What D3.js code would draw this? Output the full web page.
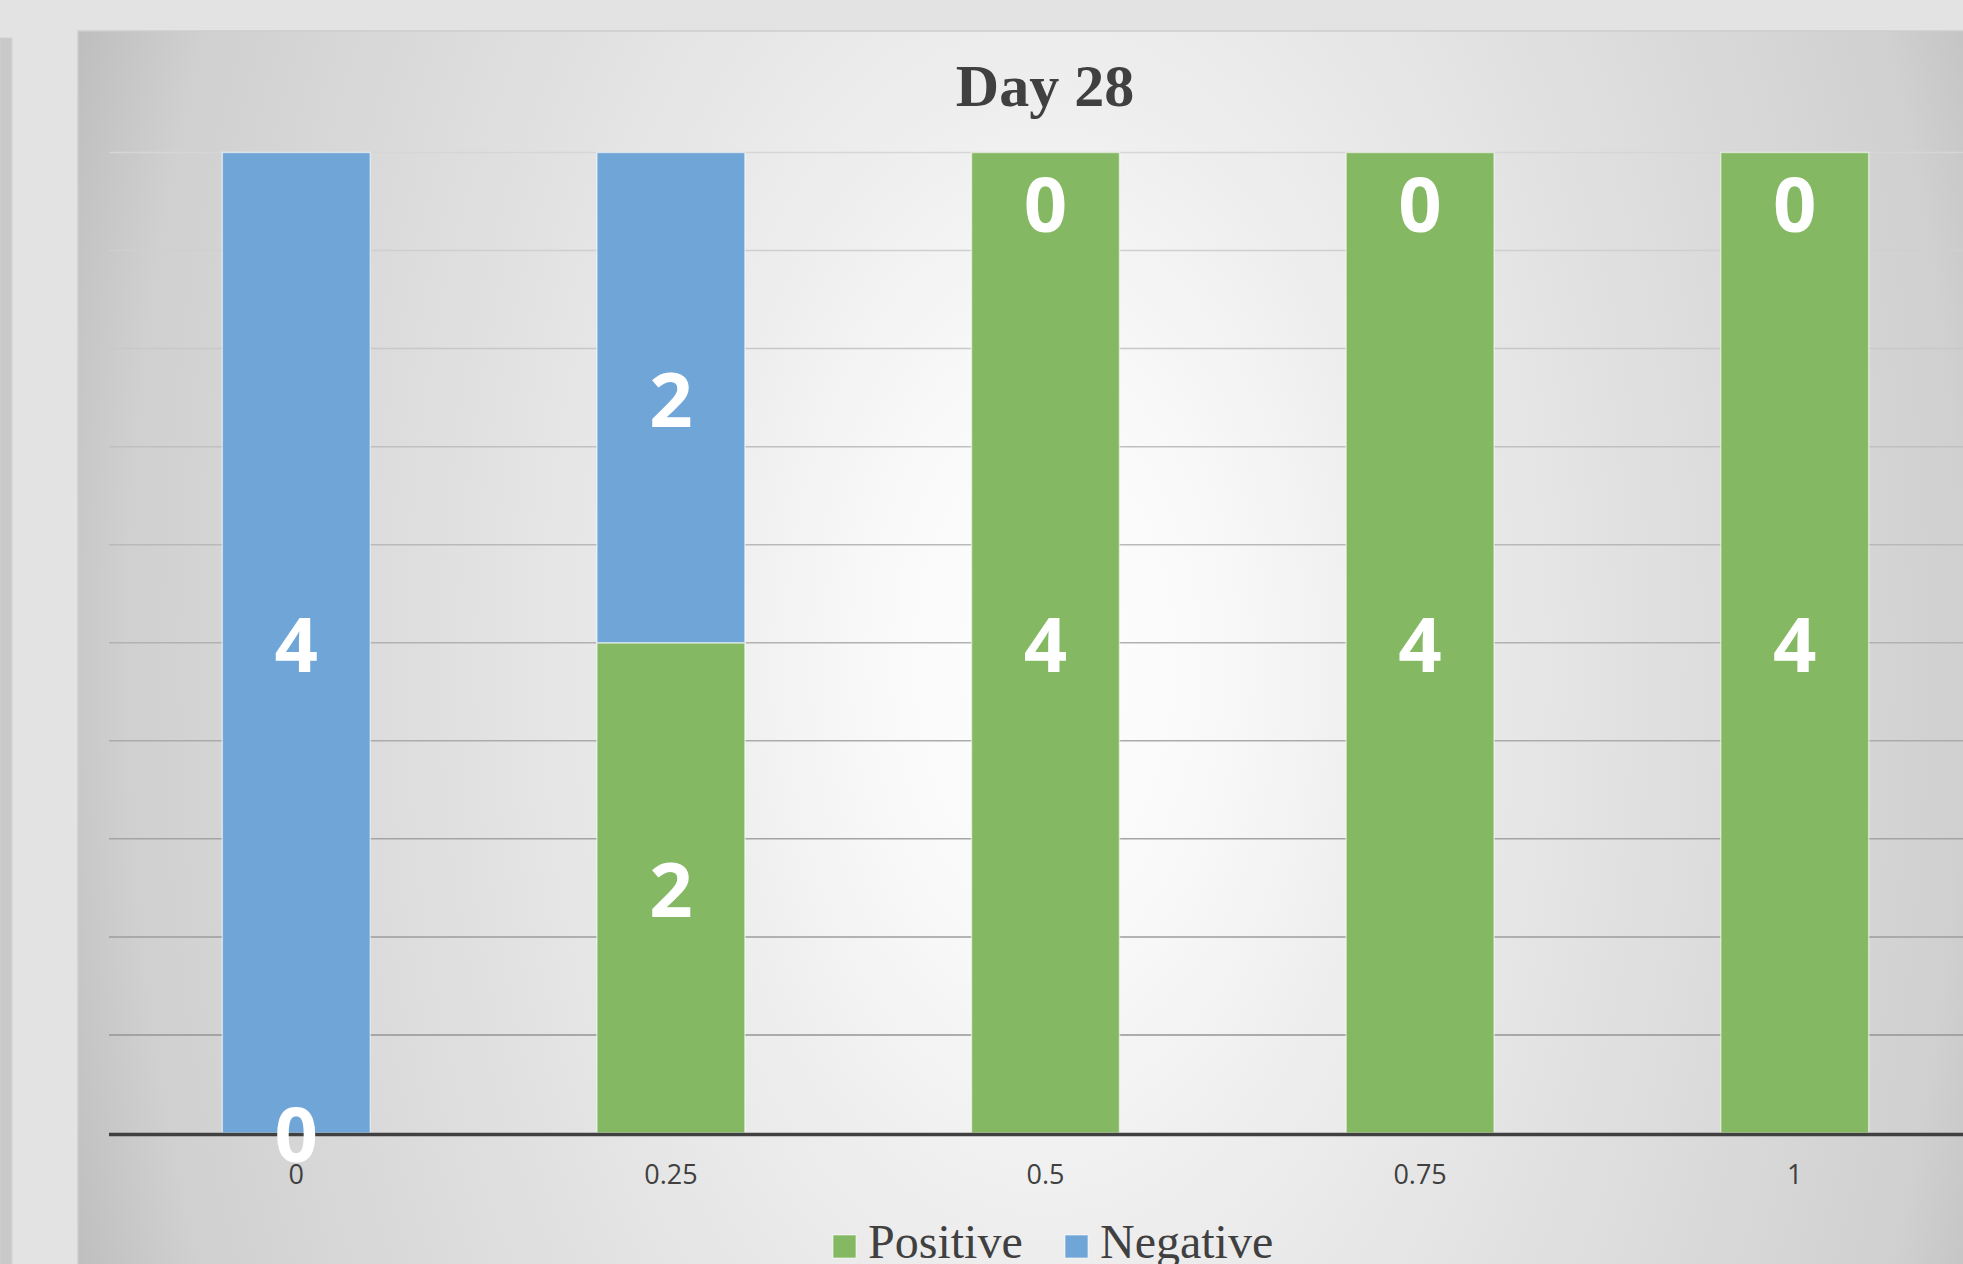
<!DOCTYPE html>
<html>
<head>
<meta charset="utf-8">
<script src="https://cdn.jsdelivr.net/npm/d3@7"></script>
<style>
  html, body { margin: 0; padding: 0; background: #e3e3e3; overflow: hidden; }
  svg { display: block; }
</style>
</head>
<body>
<div id="chart"></div>
<script>
// chart values
const categories = ['0', '0.25', '0.5', '0.75', '1'];
const positive = [0, 2, 4, 4, 4];
const negative = [4, 2, 0, 0, 0];
const seriesNames = ['Positive', 'Negative'];
const seriesColors = ['#84b862', '#6fa5d7'];
const title = 'Day 28';

const W = 1963, H = 1264;

const svg = d3.select('#chart')
    .append('svg')
    .attr('width', W)
    .attr('height', H);

const defs = svg.append('defs');

// chart area background, white in the middle, grey to the sides
const grad = defs.append('radialGradient')
    .attr('id', 'bg')
    .attr('gradientUnits', 'userSpaceOnUse')
    .attr('cx', 1045).attr('cy', 660).attr('r', 1100)
    .attr('gradientTransform', 'translate(1045,660) scale(1,1.7) translate(-1045,-660)');
[[0, 255], [0.17, 248], [0.306, 238], [0.51, 226], [0.835, 208], [0.94, 190], [1, 186]]
    .forEach(s => {
        grad.append('stop')
            .attr('offset', s[0])
            .attr('stop-color', d3.rgb(s[1], s[1], s[1]));
    });

// grey strip at left edge
svg.append('rect')
    .attr('x', 0).attr('y', 38)
    .attr('width', 12).attr('height', H)
    .style('fill', '#c9c9c9')
    .style('stroke', '#d2d2d2');

svg.append('rect')
    .attr('x', 78).attr('y', 31)
    .attr('width', 1940).attr('height', 1300)
    .style('fill', 'url(#bg)')
    .style('stroke', '#cdcdcd')
    .style('stroke-width', 1.5);

const plot = { left: 109, right: 1982, top: 152.5, bottom: 1133 };

const table = categories.map((c, i) => ({ cat: c, Positive: positive[i], Negative: negative[i] }));

const stack = d3.stack()
    .keys(seriesNames)
    .offset(d3.stackOffsetExpand);
const stacked = stack(table);

const xScale = d3.scaleBand()
    .domain(categories)
    .range([plot.left, plot.right])
    .paddingInner(0.605)
    .paddingOuter(0.3025);

const yScale = d3.scaleLinear()
    .domain([0, 1])
    .range([plot.bottom, plot.top]);

// gridlines, darker towards the bottom
const shade = d3.interpolateRgb('#d6d6d6', '#8e8e8e');
svg.append('g')
    .attr('class', 'grid')
    .selectAll('line')
    .data(yScale.ticks(10).slice(1))
    .enter()
    .append('line')
    .attr('x1', plot.left)
    .attr('x2', plot.right)
    .attr('y1', d => yScale(d))
    .attr('y2', d => yScale(d))
    .style('stroke', d => shade(1 - d))
    .style('stroke-width', 1.5);

// bars
svg.append('g')
    .selectAll('g')
    .data(stacked)
    .enter()
    .append('g')
    .style('fill', (d, i) => seriesColors[i])
    .selectAll('rect')
    .data(d => d)
    .enter()
    .append('rect')
    .attr('x', d => xScale(d.data.cat))
    .attr('y', d => yScale(d[1]))
    .attr('width', xScale.bandwidth())
    .attr('height', d => yScale(d[0]) - yScale(d[1]))
    .style('stroke', 'rgba(255,255,255,0.55)')
    .style('stroke-width', 1.5);

// x axis
const xAxis = svg.append('g')
    .attr('class', 'x-axis')
    .attr('transform', `translate(0,${plot.bottom})`)
    .call(d3.axisBottom(xScale).tickSize(0).tickPadding(0));
xAxis.select('.domain').remove();
xAxis.selectAll('text')
    .attr('y', 51)
    .attr('dy', null)
    .style('font-family', '"Open Sans", sans-serif')
    .style('font-size', '27px')
    .style('fill', '#404040');

svg.append('line')
    .attr('x1', plot.left).attr('x2', W)
    .attr('y1', plot.bottom + 1.5).attr('y2', plot.bottom + 1.5)
    .style('stroke', '#404040')
    .style('stroke-width', 3.5);

// data labels (kept inside the plot area at the top)
const labels = svg.append('g');
stacked.forEach(s => {
    labels.selectAll(null)
        .data(s)
        .enter()
        .append('text')
        .attr('x', d => xScale(d.data.cat) + xScale.bandwidth() / 2)
        .attr('y', d => Math.max((yScale(d[0]) + yScale(d[1])) / 2, plot.top + 50) + 29)
        .attr('text-anchor', 'middle')
        .style('font-family', '"Open Sans", sans-serif')
        .style('font-weight', 'bold')
        .style('font-size', '76px')
        .style('fill', '#ffffff')
        .text(d => d.data[s.key]);
});

// title
svg.append('text')
    .attr('x', 1045)
    .attr('y', 106)
    .attr('text-anchor', 'middle')
    .style('font-family', '"Liberation Serif", "Times New Roman", serif')
    .style('font-weight', 'bold')
    .style('font-size', '60px')
    .style('fill', '#404040')
    .text(title);

// legend
const legendX = [833, 1065];
const legend = svg.append('g');
seriesNames.forEach((name, i) => {
    legend.append('rect')
        .attr('x', legendX[i]).attr('y', 1235)
        .attr('width', 23).attr('height', 23)
        .style('fill', seriesColors[i])
        .style('stroke', 'rgba(255,255,255,0.6)');
    legend.append('text')
        .attr('x', legendX[i] + 35)
        .attr('y', 1258)
        .style('font-family', '"Liberation Serif", "Times New Roman", serif')
        .style('font-size', '48px')
        .style('fill', '#404040')
        .text(name);
});
</script>
</body>
</html>
